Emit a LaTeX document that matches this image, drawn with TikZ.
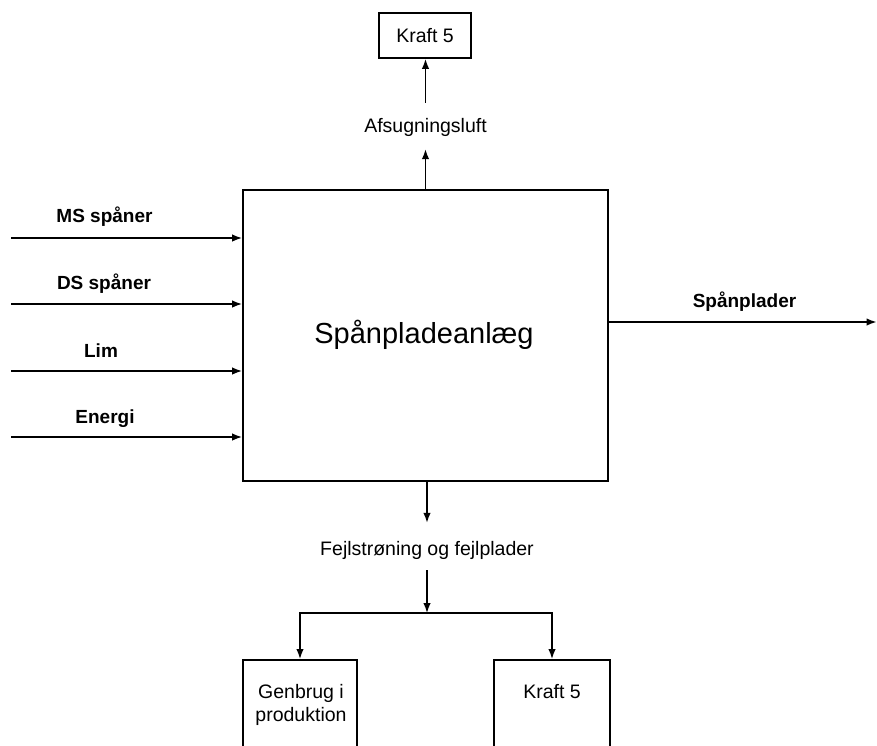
\documentclass[tikz,border=0pt]{standalone}
\usepackage{fontspec}
\setmainfont{Liberation Sans}
\usetikzlibrary{arrows.meta}
\begin{document}
\begin{tikzpicture}[x=1pt,y=-1pt,
  box/.style={draw,line width=1.8pt,inner sep=0pt},
  flow/.style={line width=1.5pt,-{Latex[length=10pt,width=7.5pt]}},
  lbl/.style={font=\fontsize{19.5}{23}\selectfont,inner sep=0pt},
  blbl/.style={font=\fontsize{19}{23}\selectfont\bfseries,inner sep=0pt,anchor=base}]
\useasboundingbox (0,0) rectangle (877,745);
\clip (0,0) rectangle (877,745);

% main box
\node[box,minimum width=365pt,minimum height=291pt] (main) at (425.5,335.5) {};
\node[font=\fontsize{29}{34}\selectfont,inner sep=0pt,anchor=base] (title) at (424,343) {Spånpladeanlæg};

% top
\node[box,lbl,minimum width=92pt,minimum height=45pt] (k1) at (425,35.5) {Kraft 5};
\node[lbl,anchor=base,text height=29pt,text depth=17pt] (afs) at (425.5,132) {Afsugningsluft};
\draw[flow] (main.north -| afs) -- (afs.south);
\draw[flow] (afs.north) -- (k1.south -| afs);

% inputs
\coordinate (i1) at (11,238);
\coordinate (i2) at (11,304);
\coordinate (i3) at (11,371);
\coordinate (i4) at (11,437);
\draw[flow] (i1) -- (i1 -| main.west);
\draw[flow] (i2) -- (i2 -| main.west);
\draw[flow] (i3) -- (i3 -| main.west);
\draw[flow] (i4) -- (i4 -| main.west);
\node[blbl] (ms) at (104.5,222) {MS spåner};
\node[blbl] (ds) at (104,289) {DS spåner};
\node[blbl] (lim) at (101,357) {Lim};
\node[blbl] (en) at (105,423) {Energi};

% output
\coordinate (o) at (876.5,322);
\draw[flow] (main.east |- o) -- (o);
\node[blbl] (sp) at (744.5,307) {Spånplader};

% bottom
\node[lbl,anchor=base,text height=32pt,text depth=15pt] (fejl) at (427,555) {Fejlstrøning og fejlplader};
\draw[flow] (main.south -| fejl) -- (fejl.north);
\coordinate (j) at (427,613);
\draw[flow] (fejl.south) -- (j);
\node[box,minimum width=114pt,minimum height=141pt,anchor=north] (gen) at (300,659) {};
\node[box,minimum width=116pt,minimum height=141pt,anchor=north] (kb) at (552,659) {};
\draw[flow] (j) -| (gen.north);
\draw[flow] (j) -| (kb.north);
\node[lbl,align=center,anchor=north] (gent) at (301,684.4) {Genbrug i\\produktion};
\node[lbl,anchor=base] (kbt) at (552,698) {Kraft 5};
\end{tikzpicture}
\end{document}
